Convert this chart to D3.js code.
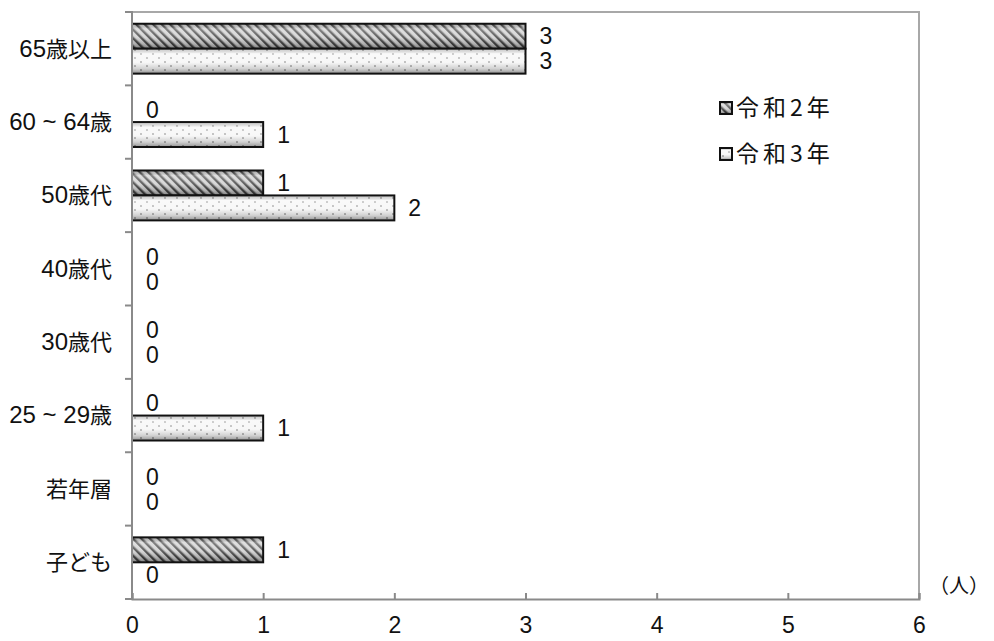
<!DOCTYPE html>
<html>
<head>
<meta charset="utf-8">
<script src="https://cdn.jsdelivr.net/npm/d3@7/dist/d3.min.js"></script>
<style>
  html, body { margin: 0; padding: 0; background: #fff; }
  svg { display: block; }
  text { font-family: "Liberation Sans", "Noto Sans CJK JP", sans-serif; fill: #111; }
  .jp { font-family: "Noto Sans CJK JP", sans-serif; }
</style>
</head>
<body>
<svg id="chart" width="994" height="641"></svg>
<script>
// Age groups, top to bottom
const categories = ["65歳以上", "60 ~ 64歳", "50歳代", "40歳代", "30歳代", "25 ~ 29歳", "若年層", "子ども"];
const seriesNames = ["令和2年", "令和3年"];
const valuesR2 = [3, 0, 1, 0, 0, 0, 0, 1];
const valuesR3 = [3, 1, 2, 0, 0, 1, 0, 0];
const xTicks = [0, 1, 2, 3, 4, 5, 6];
const unitLabel = "（人）";

const svg = d3.select("#chart");
const plot = { left: 132, right: 919, top: 12, bottom: 599 };

const x = d3.scaleLinear().domain([0, 6]).range([plot.left, plot.right]);
const y = d3.scaleBand().domain(categories).range([plot.top, plot.bottom]).paddingInner(0.32).paddingOuter(0.16);
const sub = d3.scaleBand().domain(seriesNames).range([0, y.bandwidth()]);

const defs = svg.append("defs");

// diagonal hatch for 令和2年
const hatch = defs.append("pattern").attr("id", "hatch").attr("patternUnits", "userSpaceOnUse")
  .attr("width", 6).attr("height", 6).attr("patternTransform", "rotate(-45)");
hatch.append("rect").attr("width", 6).attr("height", 6).attr("fill", "#d0d0d0");
hatch.append("rect").attr("x", 0).attr("width", 2.4).attr("height", 6).attr("fill", "#444");

// light dotted fill for 令和3年
const dots = defs.append("pattern").attr("id", "dots").attr("patternUnits", "userSpaceOnUse")
  .attr("width", 12).attr("height", 8);
dots.append("rect").attr("width", 12).attr("height", 8).attr("fill", "#f6f6f6");
dots.append("circle").attr("cx", 3).attr("cy", 2).attr("r", 0.9).attr("fill", "#999");
dots.append("circle").attr("cx", 9).attr("cy", 6).attr("r", 0.9).attr("fill", "#999");

// shading overlay giving the bars a rounded look
const shade = defs.append("linearGradient").attr("id", "shade").attr("x1", 0).attr("x2", 0).attr("y1", 0).attr("y2", 1);
shade.append("stop").attr("offset", "0%").attr("stop-color", "#000").attr("stop-opacity", 0.15);
shade.append("stop").attr("offset", "20%").attr("stop-color", "#fff").attr("stop-opacity", 0.35);
shade.append("stop").attr("offset", "55%").attr("stop-color", "#fff").attr("stop-opacity", 0.15);
shade.append("stop").attr("offset", "80%").attr("stop-color", "#000").attr("stop-opacity", 0.15);
shade.append("stop").attr("offset", "100%").attr("stop-color", "#000").attr("stop-opacity", 0.4);

// frame: top and right borders
svg.append("path")
  .attr("d", `M${plot.left},${plot.top}H${plot.right}V${plot.bottom}`)
  .attr("fill", "none").attr("stroke", "#a8a8a8").attr("stroke-width", 2);

// bars
const rows = categories.map((c, i) => ({ c, v: [valuesR2[i], valuesR3[i]] }));
const fills = ["url(#hatch)", "url(#dots)"];
seriesNames.forEach((s, si) => {
  const g = svg.append("g");
  const data = rows.filter(r => r.v[si] > 0);
  g.selectAll("rect.fill").data(data).join("rect")
    .attr("x", x(0)).attr("y", d => y(d.c) + sub(s))
    .attr("width", d => x(d.v[si]) - x(0)).attr("height", sub.bandwidth())
    .attr("fill", fills[si]);
  g.selectAll("rect.shade").data(data).join("rect")
    .attr("x", x(0)).attr("y", d => y(d.c) + sub(s))
    .attr("width", d => x(d.v[si]) - x(0)).attr("height", sub.bandwidth())
    .attr("fill", "url(#shade)").attr("stroke", "#111").attr("stroke-width", 2);
  // value labels
  svg.append("g").selectAll("text").data(rows).join("text")
    .attr("x", d => x(d.v[si]) + 14)
    .attr("y", d => y(d.c) + sub(s) + sub.bandwidth() / 2)
    .attr("dy", "0.36em")
    .attr("font-size", 23)
    .text(d => d.v[si]);
});

// left axis with outward ticks at band edges
const leftAxis = svg.append("g");
leftAxis.append("line").attr("x1", plot.left).attr("x2", plot.left)
  .attr("y1", plot.top - 1).attr("y2", plot.bottom + 1)
  .attr("stroke", "#8a8a8a").attr("stroke-width", 2);
const edges = d3.range(categories.length + 1).map(i => plot.top + i * (plot.bottom - plot.top) / categories.length);
leftAxis.selectAll("line.tick").data(edges).join("line")
  .attr("x1", plot.left - 7).attr("x2", plot.left)
  .attr("y1", d => d).attr("y2", d => d)
  .attr("stroke", "#8a8a8a").attr("stroke-width", 2);
// category names: digits set a little larger than the kanji
leftAxis.selectAll("text").data(categories).join("text")
  .attr("x", 112).attr("y", d => y(d) + y.bandwidth() / 2)
  .attr("dy", "0.36em").attr("text-anchor", "end").attr("font-size", 22)
  .each(function (d) {
    const t = d3.select(this);
    d.match(/[0-9 ~]+|[^0-9 ~]+/g).forEach(part => {
      const isNum = /[0-9]/.test(part);
      t.append("tspan").attr("font-size", isNum ? 24 : 22).text(part);
    });
  });

// bottom axis with inward ticks
const bottom = svg.append("g").attr("transform", `translate(0,${plot.bottom})`)
  .call(d3.axisBottom(x).tickValues(xTicks).tickSize(-6).tickPadding(18).tickFormat(d3.format("d")));
bottom.select(".domain").attr("stroke", "#8a8a8a").attr("stroke-width", 2);
bottom.selectAll(".tick line").attr("stroke", "#8a8a8a").attr("stroke-width", 2);
bottom.selectAll(".tick text").attr("font-size", 23).attr("font-family", "Liberation Sans, sans-serif").attr("fill", "#111");

svg.append("text").attr("class", "jp").attr("x", 929).attr("y", 586)
  .attr("dy", "0.36em").attr("font-size", 20).text(unitLabel);

// legend
const legend = svg.append("g").attr("transform", "translate(720,108)");
seriesNames.forEach((s, i) => {
  const g = legend.append("g").attr("transform", `translate(0,${i * 46})`);
  g.append("rect").attr("x", 0).attr("y", -6).attr("width", 12).attr("height", 12).attr("fill", fills[i]);
  g.append("rect").attr("x", 0).attr("y", -6).attr("width", 12).attr("height", 12)
    .attr("fill", "url(#shade)").attr("stroke", "#111").attr("stroke-width", 2);
  g.append("text").attr("class", "jp").attr("x", 16).attr("dy", "0.36em")
    .attr("font-size", 23).attr("letter-spacing", 4).text(s);
});
</script>
</body>
</html>
